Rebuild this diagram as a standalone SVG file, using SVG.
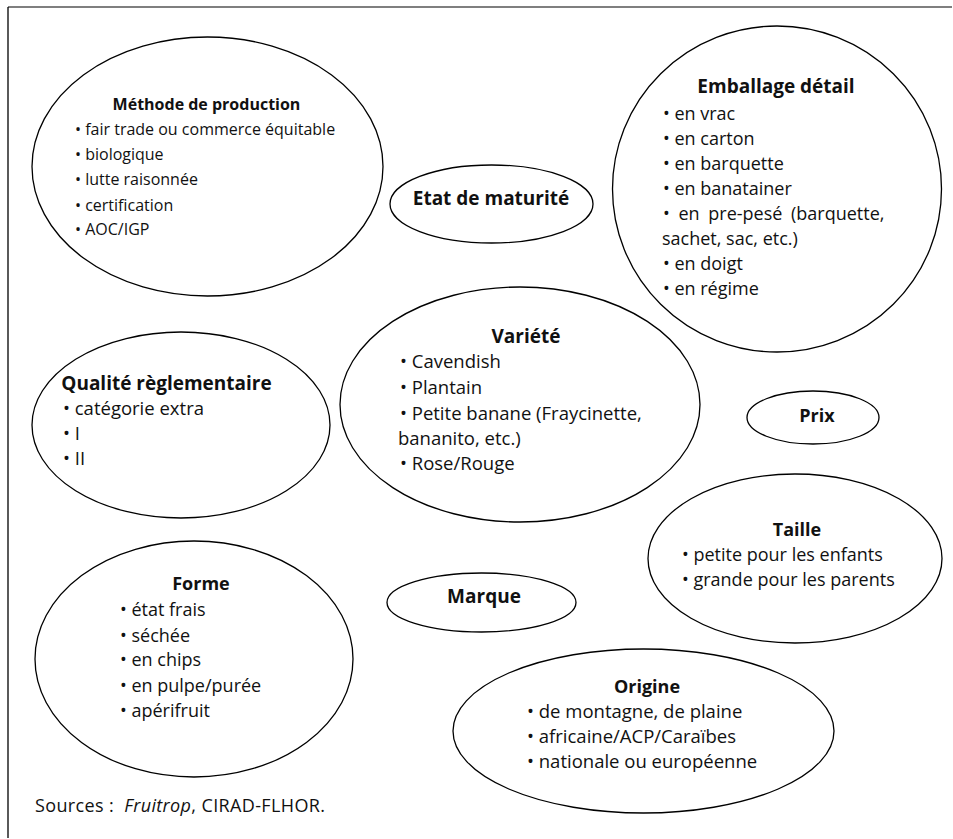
<svg xmlns="http://www.w3.org/2000/svg" width="953" height="839" viewBox="0 0 953 839">
<style>
.bg{fill:#fff}
.el{fill:none;stroke:#000;stroke-width:1.3}
text{font-family:"Open Sans","Noto Sans","Liberation Sans",sans-serif;fill:#111}
.t{font-weight:bold;text-anchor:middle}
.m{font-size:16px}
.b{font-size:18px}
.c{font-size:18.5px}
.tb{font-size:19px}
</style>
<rect class="bg" x="0" y="0" width="953" height="839"/>
<g id="frame">
<line x1="8" y1="7" x2="952" y2="7" stroke="#555" stroke-width="1.6"/>
<line x1="8" y1="7" x2="8" y2="838" stroke="#000" stroke-width="1.3"/>
</g>
<g id="connectors"></g>
<g id="methode">
<ellipse class="el" cx="207.5" cy="166.5" rx="175.5" ry="129.5"/>
<text class="t m" x="206.5" y="110">Méthode de production</text>
<text class="m" x="75" y="135">• fair trade ou commerce équitable</text>
<text class="m" x="75" y="160">• biologique</text>
<text class="m" x="75" y="185">• lutte raisonnée</text>
<text class="m" x="75" y="211">• certification</text>
<text class="m" x="75" y="235">• AOC/IGP</text>
</g>
<g id="emballage">
<ellipse class="el" cx="777" cy="189" rx="164.5" ry="163"/>
<text class="t tb" x="776" y="93">Emballage détail</text>
<text class="b" x="663" y="120">• en vrac</text>
<text class="b" x="663" y="145">• en carton</text>
<text class="b" x="663" y="170">• en barquette</text>
<text class="b" x="663" y="195">• en banatainer</text>
<text class="b" x="663" y="220" word-spacing="4">•  en pre-pesé (barquette,</text>
<text class="b" x="662" y="245">sachet, sac, etc.)</text>
<text class="b" x="663" y="270">• en doigt</text>
<text class="b" x="663" y="295">• en régime</text>
</g>
<g id="maturite">
<ellipse class="el" cx="491.5" cy="204" rx="101.5" ry="39"/>
<text class="t tb" x="491" y="205">Etat de maturité</text>
</g>
<g id="variete">
<ellipse class="el" cx="520" cy="404.5" rx="180" ry="117.5"/>
<text class="t tb" x="526" y="343">Variété</text>
<text class="c" x="400" y="368">• Cavendish</text>
<text class="c" x="400" y="394">• Plantain</text>
<text class="c" x="400" y="420">• Petite banane (Fraycinette,</text>
<text class="c" x="398" y="445">bananito, etc.)</text>
<text class="c" x="400" y="470">• Rose/Rouge</text>
</g>
<g id="qualite">
<ellipse class="el" cx="181" cy="425" rx="149" ry="93"/>
<text class="t tb" x="166.5" y="390">Qualité règlementaire</text>
<text class="c" x="63" y="415">• catégorie extra</text>
<text class="c" x="63" y="440">• I</text>
<text class="c" x="63" y="465">• II</text>
</g>
<g id="forme">
<ellipse class="el" cx="194" cy="659" rx="159" ry="118"/>
<text class="t b" x="201" y="590">Forme</text>
<text class="b" x="120" y="616">• état frais</text>
<text class="b" x="120" y="642">• séchée</text>
<text class="b" x="120" y="666">• en chips</text>
<text class="b" x="120" y="692">• en pulpe/purée</text>
<text class="b" x="120" y="717">• apérifruit</text>
</g>
<g id="marque">
<ellipse class="el" cx="481.5" cy="602.5" rx="94.5" ry="29.5"/>
<text class="t tb" x="484" y="603">Marque</text>
</g>
<g id="prix">
<ellipse class="el" cx="813" cy="417.5" rx="66" ry="26.5"/>
<text class="t b" x="817" y="422">Prix</text>
</g>
<g id="taille">
<ellipse class="el" cx="795" cy="558.5" rx="147" ry="84.5"/>
<text class="t b" x="797" y="536">Taille</text>
<text class="b" x="682" y="561">• petite pour les enfants</text>
<text class="b" x="682" y="586">• grande pour les parents</text>
</g>
<g id="origine">
<ellipse class="el" cx="643.5" cy="731" rx="190.5" ry="82"/>
<text class="t b" x="647" y="693">Origine</text>
<text class="c" x="527" y="718">• de montagne, de plaine</text>
<text class="c" x="527" y="743">• africaine/ACP/Caraïbes</text>
<text class="c" x="527" y="768">• nationale ou européenne</text>
</g>
<g id="sources">
<text style="font-size:18px;white-space:pre" xml:space="preserve" x="35" y="812" textLength="290" lengthAdjust="spacing">Sources :  <tspan font-style="italic">Fruitrop</tspan>, CIRAD-FLHOR.</text>
</g>
</svg>
